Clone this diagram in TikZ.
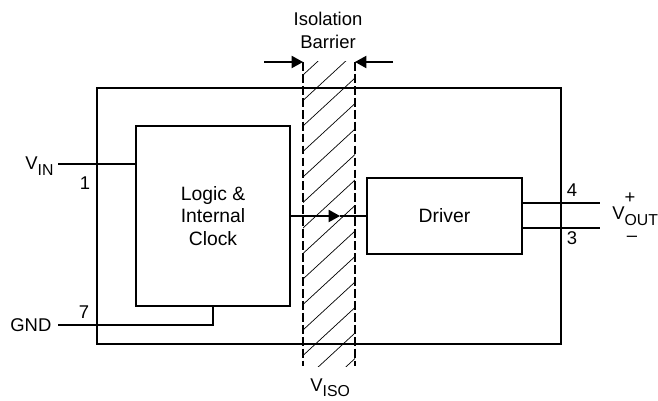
\documentclass[tikz,border=0pt]{standalone}
\usepackage{fontspec}
\setmainfont{Liberation Sans}
\usetikzlibrary{arrows.meta}
\newcommand{\pinsub}[1]{\raisebox{-3pt}{\fontsize{9}{10}\selectfont #1}}

\begin{document}
\begin{tikzpicture}[x=0.02cm, y=-0.02cm,
  block/.style={draw, line width=0.7pt, inner sep=0pt, align=center, font=\fontsize{11}{13}\selectfont},
  wire/.style={line width=0.7pt},
  lbl/.style={inner sep=0pt, align=center, font=\fontsize{10.5}{13}\selectfont},
  barrier/.style={line width=0.7pt, dash pattern=on 5pt off 1.8pt},
  hatch/.style={line width=0.4pt},
  pointer/.style={line width=0.7pt, -{Triangle[length=6.5pt, width=7pt]}}]
\useasboundingbox (0,0) rectangle (658,401);

\node (chip) at (329, 216) [block, minimum width=9.28cm, minimum height=5.12cm] {};
\node (logic) at (213, 216) [block, minimum width=3.08cm, minimum height=3.6cm] {Logic \&\\Internal\\Clock};
\node (driver) at (444.5, 216) [block, minimum width=3.1cm, minimum height=1.52cm] {Driver};

% isolation barrier
\begin{scope}
\clip (303, 62) rectangle (355, 366);
\foreach \k in {0,...,13}
  \draw[hatch] (303, 75+25.5*\k) -- ++(52, -48);
\end{scope}
\coordinate (bl) at (303, 62);
\coordinate (br) at (355, 62);
\draw[barrier] (bl) -- (303, 366);
\draw[barrier] (br) -- (355, 366);
\coordinate (inl) at (264, 62);
\coordinate (inr) at (393, 62);
\draw[pointer] (inl) -- (bl);
\draw[pointer] (inr) -- (br);
\node (iso) at (328, 30) [lbl] {Isolation\\Barrier};
\node (viso) at (310, 391) [lbl, anchor=base west] {V\pinsub{ISO}};

% signal across the barrier
\coordinate (tip) at (340, 216);
\draw[pointer] (logic.east) -- (tip);
\draw[wire] (tip) -- (driver.west);

% pins
\coordinate (vinend) at (58, 164);
\draw[wire] (vinend) -- (vinend -| logic.west);
\node (vin) at (25, 170) [lbl, anchor=base west] {V\pinsub{IN}};
\node (pin1) at (85, 190) [lbl, anchor=base] {1};

\coordinate (gndend) at (58, 325);
\draw[wire] (gndend) -| (logic.south);
\node (gnd) at (10, 332) [lbl, anchor=base west] {GND};
\node (pin7) at (84, 318) [lbl, anchor=base] {7};

\coordinate (out4) at (600, 203);
\coordinate (out3) at (600, 228);
\draw[wire] (out4 -| driver.east) -- (out4);
\draw[wire] (out3 -| driver.east) -- (out3);
\node (pin4) at (572, 197) [lbl, anchor=base] {4};
\node (pin3) at (572, 245) [lbl, anchor=base] {3};
\node (vout) at (612, 220) [lbl, anchor=base west] {V\pinsub{OUT}};
\node (plus) at (630, 198) [lbl] {+};
\node (minus) at (632, 239) [lbl] {–};
\end{tikzpicture}
\end{document}
